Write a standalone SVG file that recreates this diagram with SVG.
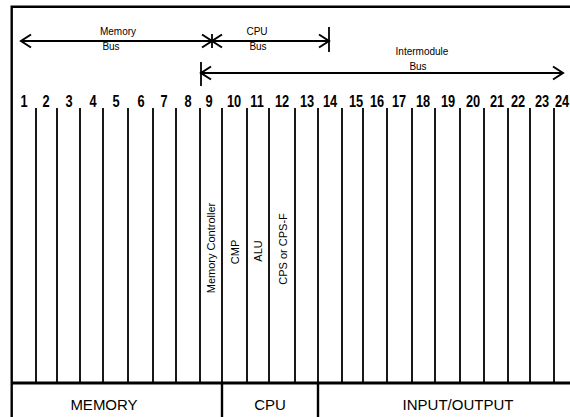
<svg xmlns="http://www.w3.org/2000/svg" width="570" height="417" viewBox="0 0 570 417">
<style>
.ln{stroke:#000;stroke-width:1.8;fill:none}
.bd{stroke:#000;stroke-width:2.4;fill:none}
.ah{stroke:#000;stroke-width:2;fill:none;stroke-linejoin:miter}
.num{font-family:"Liberation Sans",Arial,sans-serif;font-weight:bold;font-size:16px;text-anchor:middle;fill:#000}
.sm{font-family:"Liberation Sans",Arial,sans-serif;font-size:10px;text-anchor:middle;fill:#000}
.vt{font-family:"Liberation Sans",Arial,sans-serif;font-size:11px;text-anchor:middle;fill:#000}
.sec{font-family:"Liberation Sans",Arial,sans-serif;font-size:15px;text-anchor:middle;fill:#000}
</style>
<rect x="0" y="0" width="570" height="417" fill="#fff"/>
<g id="frame">
<path class="bd" d="M11.7,417 V6.7 H570"/>
<path d="M11.7,383 H570" stroke="#000" stroke-width="3"/>
</g>
<g id="connectors">
<path class="ln" d="M21,41 H212"/>
<path class="ah" d="M31,34.5 L21,41 L31,47.5"/>
<path class="ah" d="M202,34.5 L212,41 L202,47.5"/>
<path class="ln" d="M212,41 H329"/>
<path class="ah" d="M222,34.5 L212,41 L222,47.5"/>
<path class="ah" d="M319,34.5 L329,41 L319,47.5"/>
<path class="ln" d="M212,34 V48"/>
<path class="ln" d="M329,27 V52"/>
<path class="ln" d="M201,73 H563"/>
<path class="ah" d="M211,66.5 L201,73 L211,79.5"/>
<path class="ah" d="M553,66.5 L563,73 L553,79.5"/>
<path class="ln" d="M201,62 V86"/>
</g>
<g id="bus-labels">
<text class="sm" x="118" y="35">Memory</text>
<text class="sm" x="111" y="50">Bus</text>
<text class="sm" x="257" y="35">CPU</text>
<text class="sm" x="258" y="50">Bus</text>
<text class="sm" x="422" y="55">Intermodule</text>
<text class="sm" x="418" y="70">Bus</text>
</g>
<g id="slots">
<path class="ln" d="M36,108V383M57,108V383M80,108V383M103,108V383M128,108V383M153,108V383M176,108V383M200,108V383M222,108V383M247,108V383M269,108V383M295,108V383M318,108V383M342,108V383M363,108V383M387,108V383M412,108V383M435,108V383M460,108V383M484,108V383M508,108V383M530,108V383M554,108V383"/>
</g>
<g id="slot-numbers" transform="scale(0.8 1)">
<text class="num" x="30" y="107">1</text>
<text class="num" x="57.5" y="107">2</text>
<text class="num" x="86.25" y="107">3</text>
<text class="num" x="116.25" y="107">4</text>
<text class="num" x="145" y="107">5</text>
<text class="num" x="176.25" y="107">6</text>
<text class="num" x="205" y="107">7</text>
<text class="num" x="235" y="107">8</text>
<text class="num" x="261.25" y="107">9</text>
<text class="num" x="292.5" y="107">10</text>
<text class="num" x="321.25" y="107">11</text>
<text class="num" x="352.5" y="107">12</text>
<text class="num" x="383.75" y="107">13</text>
<text class="num" x="412.5" y="107">14</text>
<text class="num" x="445" y="107">15</text>
<text class="num" x="471.25" y="107">16</text>
<text class="num" x="498.75" y="107">17</text>
<text class="num" x="528.75" y="107">18</text>
<text class="num" x="560" y="107">19</text>
<text class="num" x="591.25" y="107">20</text>
<text class="num" x="621.25" y="107">21</text>
<text class="num" x="647.5" y="107">22</text>
<text class="num" x="677.5" y="107">23</text>
<text class="num" x="702.5" y="107">24</text>
</g>
<g id="slot-labels">
<text class="vt" transform="translate(215,248) rotate(-90)">Memory Controller</text>
<text class="vt" transform="translate(239,252) rotate(-90)">CMP</text>
<text class="vt" transform="translate(262,251) rotate(-90)">ALU</text>
<text class="vt" transform="translate(287,249) rotate(-90)">CPS or CPS-F</text>
</g>
<g id="memory-section">
<text class="sec" x="104" y="410">MEMORY</text>
</g>
<g id="cpu-section">
<path class="bd" d="M222,383 V417"/>
<text class="sec" x="270" y="410">CPU</text>
</g>
<g id="io-section">
<path class="bd" d="M318,383 V417"/>
<text class="sec" x="458" y="410">INPUT/OUTPUT</text>
</g>
</svg>
